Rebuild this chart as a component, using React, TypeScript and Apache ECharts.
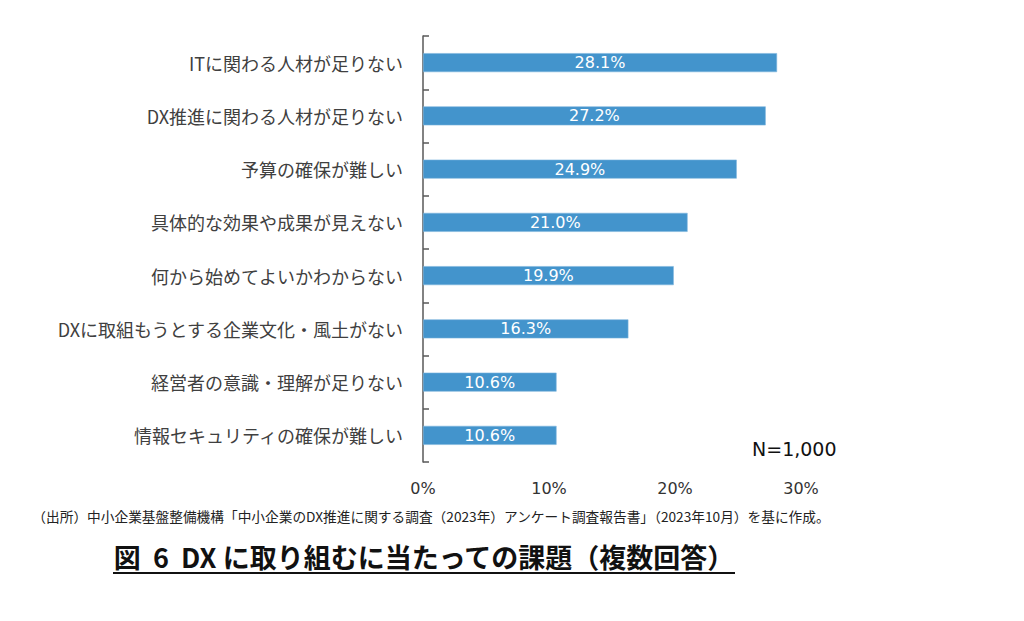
import React, { useEffect, useRef } from "react";
import * as echarts from "echarts";

const categories = [
  "ITに関わる人材が足りない",
  "DX推進に関わる人材が足りない",
  "予算の確保が難しい",
  "具体的な効果や成果が見えない",
  "何から始めてよいかわからない",
  "DXに取組もうとする企業文化・風土がない",
  "経営者の意識・理解が足りない",
  "情報セキュリティの確保が難しい",
];
const values = [28.1, 27.2, 24.9, 21.0, 19.9, 16.3, 10.6, 10.6];
const xTicks = { min: 0, max: 30, interval: 10 };
const sampleNote = "N=1,000";
const sourceNote =
  "（出所）中小企業基盤整備機構「中小企業のDX推進に関する調査（2023年）アンケート調査報告書」（2023年10月）を基に作成。";
const titleText = "図  6  DX に取り組むに当たっての課題（複数回答）";

const CJK = "'Noto Sans CJK JP', 'Noto Sans', sans-serif";
const NUM = "'DejaVu Sans', 'Noto Sans CJK JP', sans-serif";

export default function App() {
  const ref = useRef<HTMLDivElement>(null);
  useEffect(() => {
    if (!ref.current) return;
    const chart = echarts.init(ref.current, null, { renderer: "svg" });
    chart.setOption({
      animation: false,
      backgroundColor: "#ffffff",
      grid: { left: 423, right: 223, top: 36, bottom: 159, containLabel: false },
      xAxis: {
        type: "value",
        min: xTicks.min,
        max: xTicks.max,
        interval: xTicks.interval,
        axisLine: { show: false },
        axisTick: { show: false },
        splitLine: { show: false },
        axisLabel: {
          formatter: "{value}%",
          color: "#333333",
          fontSize: 16,
          fontFamily: NUM,
          margin: 18,
        },
      },
      yAxis: {
        type: "category",
        data: categories,
        inverse: true,
        axisLine: { show: true, lineStyle: { color: "#595959", width: 1.5 } },
        axisTick: { show: true, inside: true, length: 6, lineStyle: { color: "#595959", width: 1.5 } },
        axisLabel: { color: "#404040", fontSize: 18, fontFamily: CJK, margin: 20 },
        splitLine: { show: false },
      },
      series: [
        {
          type: "bar",
          data: values,
          barWidth: 19,
          itemStyle: { color: "#4394CC", borderColor: "#7DB5DD", borderWidth: 0.6 },
          label: {
            show: true,
            position: "inside",
            color: "#ffffff",
            fontSize: 16,
            fontFamily: NUM,
            formatter: (p: any) => Number(p.value).toFixed(1) + "%",
          },
        },
      ],
      graphic: [
        {
          type: "text",
          left: 752,
          top: 439,
          style: { text: sampleNote, fontSize: 19, fontFamily: NUM, fill: "#111111" },
        },
        {
          type: "text",
          x: 431,
          y: 516,
          style: {
            text: sourceNote,
            fontSize: 13.7,
            fontFamily: CJK,
            fill: "#222222",
            align: "center",
            verticalAlign: "middle",
          },
        },
        {
          type: "text",
          x: 424,
          y: 556,
          style: {
            text: titleText,
            fontSize: 27,
            fontWeight: "bold",
            fontFamily: CJK,
            fill: "#111111",
            align: "center",
            verticalAlign: "middle",
          },
        },
        {
          type: "line",
          shape: { x1: 113, y1: 573, x2: 735, y2: 573 },
          style: { stroke: "#111111", lineWidth: 2 },
        },
      ],
    });
    return () => chart.dispose();
  }, []);
  return (
    <div
      ref={ref}
      style={{ position: "absolute", left: 0, top: 0, width: 1024, height: 621 }}
    />
  );
}
